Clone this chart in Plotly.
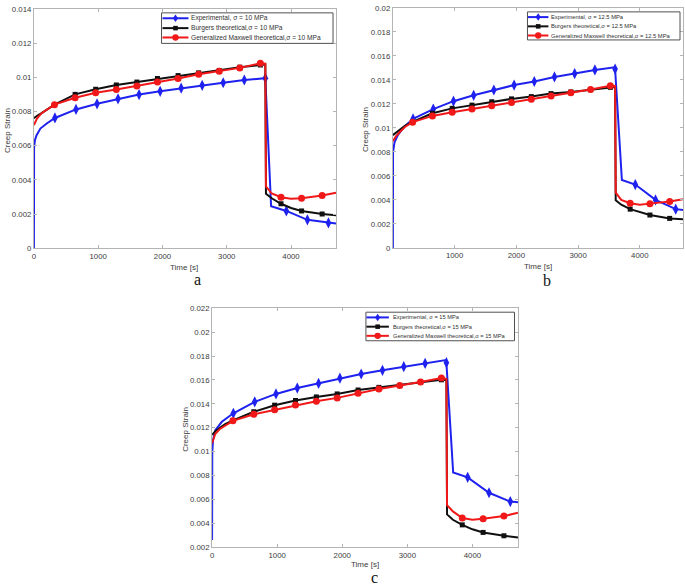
import plotly.graph_objects as go

W, H = 685, 587

# ------------------------------------------------------------------ data
STRESS = ["10", "12.5", "15"]

# times (s) of the plotted marker symbols
EXP_MARK_T = [327, 655, 982, 1309, 1636, 1964, 2291, 2618, 2945, 3273, 3600, 3927, 4255, 4582]
MOD_MARK_T = [320, 641, 961, 1282, 1602, 1922, 2243, 2563, 2883, 3203, 3523, 3844, 4164, 4484]

# theoretical model time base (s)
MOD_T = [0, 50, 120, 200, 320, 641, 961, 1282, 1602, 1922, 2243, 2563, 2883, 3203, 3523,
         3600, 3610, 3700, 3844, 4000, 4164, 4484, 4700]

# panel a  (sigma = 10 MPa)
A_EXP_T = [0, 3, 15, 40, 100, 200, 327, 655, 982, 1309, 1636, 1964, 2291, 2618, 2945, 3273,
           3600, 3690, 3927, 4255, 4582, 4700]
A_EXP = [0, 0.0059, 0.0063, 0.0066, 0.0070, 0.0073, 0.00762, 0.00812, 0.00845, 0.00874, 0.00899,
         0.00918, 0.00936, 0.00953, 0.00968, 0.00984, 0.00995, 0.00245, 0.00218, 0.00166, 0.00148,
         0.00145]
A_BURG = [0.0076, 0.00775, 0.0079, 0.0081, 0.0084, 0.0090, 0.0093, 0.00955, 0.00972, 0.00993,
          0.0101, 0.01026, 0.0104, 0.01059, 0.01072, 0.01075, 0.00318, 0.00292, 0.0026, 0.00235,
          0.00218, 0.00200, 0.00193]
A_GM = [0.0072, 0.0076, 0.0079, 0.0081, 0.0084, 0.0088, 0.00909, 0.00928, 0.00949, 0.00972,
        0.00993, 0.01018, 0.01035, 0.01055, 0.01082, 0.01080, 0.00362, 0.0032, 0.00298, 0.0029,
        0.00292, 0.00308, 0.00325]

# panel b  (sigma = 12.5 MPa)
B_EXP_T = [0, 3, 27, 80, 187, 327, 655, 982, 1309, 1636, 1964, 2291, 2618, 2945, 3273, 3590,
           3600, 3710, 3927, 4255, 4582, 4700]
B_EXP = [0, 0.0080, 0.0088, 0.0094, 0.0101, 0.01075, 0.01157, 0.01223, 0.01272, 0.01316, 0.01357,
         0.01387, 0.01425, 0.01453, 0.01483, 0.01505, 0.01491, 0.00566, 0.00528, 0.0040, 0.00323,
         0.00315]
B_BURG = [0.0094, 0.0096, 0.0099, 0.0102, 0.0105, 0.01122, 0.01163, 0.0119, 0.01218, 0.01242,
          0.01261, 0.01286, 0.0130, 0.01319, 0.01338, 0.0134, 0.00397, 0.0036, 0.00323, 0.0030,
          0.00274, 0.00246, 0.00238]
B_GM = [0.0089, 0.0093, 0.0097, 0.0101, 0.01048, 0.0110, 0.0113, 0.01157, 0.01185, 0.01212,
        0.0124, 0.01267, 0.01294, 0.01321, 0.01352, 0.0135, 0.0046, 0.0040, 0.00372, 0.0036,
        0.00369, 0.00386, 0.00405]

# panel c  (sigma = 15 MPa)
C_EXP_T = [0, 3, 15, 50, 150, 250, 327, 655, 982, 1309, 1636, 1964, 2291, 2618, 2945, 3273,
           3590, 3600, 3704, 3927, 4255, 4582, 4700]
C_EXP = [0.0026, 0.0100, 0.0110, 0.0118, 0.0125, 0.0129, 0.01321, 0.01417, 0.01483, 0.01532,
         0.01571, 0.01615, 0.0165, 0.01681, 0.01711, 0.01738, 0.01766, 0.01745, 0.00826, 0.00785,
         0.00656, 0.00582, 0.00576]
C_BURG = [0.0114, 0.0117, 0.0120, 0.0123, 0.01262, 0.01334, 0.01389, 0.01428, 0.01458, 0.01483,
          0.01516, 0.01538, 0.01554, 0.01582, 0.01601, 0.0160, 0.00475, 0.0043, 0.00387, 0.0035,
          0.00324, 0.00296, 0.00282]
C_GM = [0.0107, 0.0115, 0.0119, 0.0122, 0.01258, 0.01313, 0.01351, 0.0139, 0.01422, 0.0145,
        0.01488, 0.01524, 0.01554, 0.01582, 0.01617, 0.0161, 0.00552, 0.0050, 0.00444, 0.0043,
        0.00439, 0.00461, 0.00488]

X_TICKS_A = [0, 1000, 2000, 3000, 4000]
X_TICKS_B = [1000, 2000, 3000, 4000]
X_TICKS_C = [0, 1000, 2000, 3000, 4000]
X_RANGE = [0, 4700]
Y_RANGE_A = [0, 0.014]
Y_RANGE_B = [0, 0.02]
Y_RANGE_C = [0.002, 0.022]

LABELS = ["a", "b", "c"]

# ------------------------------------------------------------------ style
BLUE = "#1f22ee"
BLACK = "#101010"
RED = "#f01818"
AXC = "#b4b4b4"
TXT = "#3c3c3c"
FONT = "Liberation Sans, Arial, sans-serif"


def px(x):
    return x / W


def py(y):
    return 1 - y / H


# panel geometry in pixels: (left, top, right, bottom)
BOX = [(32, 5, 335, 248), (392, 4, 683, 247.7), (210.7, 309, 517.5, 551.7)]

fig = go.Figure()

panels = [
    (A_EXP_T, A_EXP, A_BURG, A_GM, X_TICKS_A, Y_RANGE_A),
    (B_EXP_T, B_EXP, B_BURG, B_GM, X_TICKS_B, Y_RANGE_B),
    (C_EXP_T, C_EXP, C_BURG, C_GM, X_TICKS_C, Y_RANGE_C),
]


def pick(ts, ys, marks):
    mt, my = [], []
    for t, y in zip(ts, ys):
        if t in marks:
            mt.append(t)
            my.append(y)
    return mt, my


for i, (et, ev, bv, gv, xt, yr) in enumerate(panels):
    n = "" if i == 0 else str(i + 1)
    xa, ya = "x" + n, "y" + n
    series = [
        (et, ev, EXP_MARK_T, BLUE, dict(symbol="diamond-tall", size=8)),
        (MOD_T, bv, MOD_MARK_T, BLACK, dict(symbol="square", size=5)),
        (MOD_T, gv, MOD_MARK_T, RED, dict(symbol="circle", size=7)),
    ]
    for order in [0, 1, 2]:
        ts, ys, marks, col, mk = series[order]
        fig.add_trace(go.Scatter(x=ts, y=ys, mode="lines", line=dict(color=col, width=2),
                                 xaxis=xa, yaxis=ya, showlegend=False, hoverinfo="skip"))
        mt, my = pick(ts, ys, marks)
        fig.add_trace(go.Scatter(x=mt, y=my, mode="markers",
                                 marker=dict(color=col, line=dict(width=0), **mk),
                                 xaxis=xa, yaxis=ya, showlegend=False, cliponaxis=False))
    l, t, r, b = BOX[i]
    axcommon = dict(showgrid=False, zeroline=False, showline=True, linecolor=AXC, linewidth=1,
                    mirror="ticks", ticks="inside", ticklen=3, tickcolor=AXC,
                    tickfont=dict(family=FONT, size=7.8, color=TXT))
    fig.layout["xaxis" + n] = dict(domain=[px(l), px(r)], range=X_RANGE, tickvals=xt,
                                   anchor=ya, **axcommon)
    fig.layout["yaxis" + n] = dict(domain=[py(b), py(t)], range=yr, dtick=0.002,
                                   tick0=yr[0], anchor=xa, **axcommon)

# ------------------------------------------------------------------ axis titles and panel letters
ann = []
XT_POS = [(183, 268), (538, 267), (364, 569)]
YT_POS = [(5, 128), (364, 127), (184, 432)]
LET_POS = [(196, 280), (547, 281), (374, 582)]
for i in range(3):
    ann.append(dict(text="Time [s]", x=px(XT_POS[i][0]), y=py(XT_POS[i][1]), xref="paper",
                    yref="paper", showarrow=False, xanchor="center", yanchor="middle",
                    font=dict(family=FONT, size=8, color=TXT)))
    ann.append(dict(text="Creep Strain", x=px(YT_POS[i][0]), y=py(YT_POS[i][1]), xref="paper",
                    yref="paper", showarrow=False, xanchor="center", yanchor="middle",
                    textangle=-90, font=dict(family=FONT, size=8, color=TXT)))
    ann.append(dict(text=LABELS[i], x=px(LET_POS[i][0]), y=py(LET_POS[i][1]), xref="paper",
                    yref="paper", showarrow=False, xanchor="center", yanchor="middle",
                    font=dict(family="Liberation Serif, Times New Roman, serif", size=16,
                              color="#111")))

# ------------------------------------------------------------------ legends (drawn as boxes)
shapes = []
LEG = [
    dict(box=(160, 9, 332, 40), rows=[14.5, 24.5, 34], lx=(161, 187), tx=188, fs=6.6),
    dict(box=(527, 8, 680, 36.5), rows=[13.3, 22.7, 32], lx=(527.5, 548), tx=549, fs=5.8),
    dict(box=(365, 313, 514, 342), rows=[318.3, 327.7, 337], lx=(365.5, 388), tx=390, fs=5.7),
]
for i, lg in enumerate(LEG):
    x0, y0, x1, y1 = lg["box"]
    shapes.append(dict(type="rect", xref="paper", yref="paper", x0=px(x0), x1=px(x1),
                       y0=py(y1), y1=py(y0), line=dict(color="#505050", width=1),
                       fillcolor="white", layer="above"))
    texts = [f"Experimental, σ = {STRESS[i]} MPa",
             f"Burgers theoretical,σ = {STRESS[i]} MPa",
             f"Generalized Maxwell theoretical,σ = {STRESS[i]} MPa"]
    cols = [BLUE, BLACK, RED]
    for k in range(3):
        ry = lg["rows"][k]
        a, bb = lg["lx"]
        shapes.append(dict(type="line", xref="paper", yref="paper", x0=px(a), x1=px(bb),
                           y0=py(ry), y1=py(ry), line=dict(color=cols[k], width=2)))
        cx = (a + bb) / 2
        if k == 0:
            path = (f"M {px(cx-2.6)},{py(ry)} L {px(cx)},{py(ry-3.8)} "
                    f"L {px(cx+2.6)},{py(ry)} L {px(cx)},{py(ry+3.8)} Z")
            shapes.append(dict(type="path", xref="paper", yref="paper", path=path,
                               fillcolor=cols[k], line=dict(width=0)))
        elif k == 1:
            shapes.append(dict(type="rect", xref="paper", yref="paper", x0=px(cx - 2.3),
                               x1=px(cx + 2.3), y0=py(ry + 2.3), y1=py(ry - 2.3),
                               fillcolor=cols[k], line=dict(width=0)))
        else:
            shapes.append(dict(type="circle", xref="paper", yref="paper", x0=px(cx - 3.2),
                               x1=px(cx + 3.2), y0=py(ry + 3.2), y1=py(ry - 3.2),
                               fillcolor=cols[k], line=dict(width=0)))
        ann.append(dict(text=texts[k], x=px(lg["tx"]), y=py(ry), xref="paper", yref="paper",
                        showarrow=False, xanchor="left", yanchor="middle",
                        font=dict(family=FONT, size=lg["fs"], color="#303030")))

fig.update_layout(
    width=W, height=H, margin=dict(l=0, r=0, t=0, b=0),
    paper_bgcolor="white", plot_bgcolor="white",
    showlegend=False, annotations=ann, shapes=shapes,
)

fig.write_html("out.html", config={"displayModeBar": False},
               post_script="document.body.style.margin='0';document.body.style.overflow='hidden';")
